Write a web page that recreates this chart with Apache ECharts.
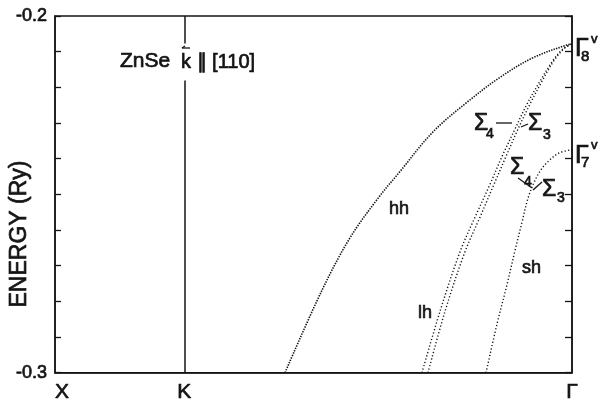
<!DOCTYPE html>
<html>
<head>
<meta charset="utf-8">
<script src="https://cdn.jsdelivr.net/npm/echarts@6/dist/echarts.min.js"></script>
<style>
  html, body { margin: 0; padding: 0; background: #fff; }
  #chart { width: 599px; height: 403px; }
</style>
</head>
<body>
<div id="chart"></div>
<script>
// Valence bands of ZnSe along k || [110]; abscissa runs X (0) -> K (0.25) -> Γ (1)
const hhK = [0.4449, 0.5164, 0.5706, 0.6248, 0.6673, 0.7311, 0.7969, 0.8607, 0.9246, 0.9903, 1.0];
const hhE = [-0.3000, -0.2769, -0.2622, -0.2511, -0.2436, -0.2325, -0.2242, -0.2172, -0.2117, -0.2081, -0.2078];

const lh4K = [0.7099, 0.7447, 0.7834, 0.8124, 0.8414, 0.8646, 0.8897, 0.9130, 0.9381, 0.9632, 0.9826, 1.0];
const lh3K = [0.7215, 0.7544, 0.7930, 0.8221, 0.8491, 0.8723, 0.8956, 0.9188, 0.9420, 0.9652, 0.9845, 1.0];
const lhE  = [-0.3000, -0.2828, -0.2661, -0.2564, -0.2472, -0.2394, -0.2317, -0.2247, -0.2183, -0.2125, -0.2092, -0.2078];

const shK = [0.8337, 0.8549, 0.8743, 0.8897, 0.9033, 0.9149, 0.9265, 0.9400, 0.9574, 0.9768, 1.0];
const shE = [-0.3000, -0.2864, -0.2753, -0.2658, -0.2578, -0.2511, -0.2467, -0.2431, -0.2403, -0.2383, -0.2375];

const kPointK = 0.25;
const xTickValues = [0, 0.25, 1];
const xTickLabels = ['X', 'K', 'Γ'];
const yTickValues = [-0.3, -0.2];
const yTickLabels = ['-0.3', '-0.2'];
const yMin = -0.3, yMax = -0.2, yStep = 0.01;

const INK = '#141414';
const FONT = 'Liberation Sans, Arial, sans-serif';
const HEAVY = 0.7; // extra stroke that thickens the lettering

function pairs(xs, ys) { return xs.map((x, i) => [x, ys[i]]); }
function lookup(values, labels, v) {
  for (let i = 0; i < values.length; i++) if (Math.abs(values[i] - v) < 1e-6) return labels[i];
  return '';
}

function band(name, xs, ys, width, dash) {
  return {
    name, type: 'line', data: pairs(xs, ys),
    showSymbol: false, smooth: 0.35, clip: true,
    lineStyle: { color: INK, width, type: dash, cap: 'butt' },
    silent: true, z: 3
  };
}

function txt(x, y, text, size, extra) {
  return {
    type: 'text', x, y, z: 100,
    style: Object.assign({
      text, font: size + 'px ' + FONT, fill: INK, stroke: INK, lineWidth: HEAVY,
      align: 'left', verticalAlign: 'middle'
    }, extra || {})
  };
}
function seg(x1, y1, x2, y2) {
  return { type: 'line', z: 100, shape: { x1, y1, x2, y2 }, style: { stroke: INK, lineWidth: 1.3 } };
}

const chart = echarts.init(document.getElementById('chart'), null, { renderer: 'canvas' });

chart.setOption({
  animation: false,
  backgroundColor: '#fff',
  grid: { left: 55, right: 27, top: 16, bottom: 27, show: true, borderColor: INK, borderWidth: 1.5, backgroundColor: 'transparent' },
  xAxis: {
    type: 'value', min: 0, max: 1, interval: 0.25,
    axisLine: { show: true, lineStyle: { color: INK, width: 1.5 } },
    axisTick: { show: false },
    splitLine: { show: false },
    axisLabel: {
      margin: 9, color: INK, fontSize: 21, fontFamily: FONT, alignMinLabel: 'left',
      textBorderColor: INK, textBorderWidth: HEAVY,
      formatter: v => lookup(xTickValues, xTickLabels, v)
    }
  },
  yAxis: [
    {
      type: 'value', min: yMin, max: yMax, interval: yStep, position: 'left',
      axisLine: { show: true, lineStyle: { color: INK, width: 1.5 } },
      axisTick: { show: true, inside: true, length: 6, lineStyle: { color: INK, width: 1.3 } },
      splitLine: { show: false },
      axisLabel: {
        margin: 8, color: INK, fontSize: 18, fontFamily: FONT,
        textBorderColor: INK, textBorderWidth: HEAVY,
        formatter: v => lookup(yTickValues, yTickLabels, v)
      }
    },
    {
      type: 'value', min: yMin, max: yMax, interval: yStep, position: 'right',
      axisLine: { show: true, lineStyle: { color: INK, width: 1.5 } },
      axisTick: { show: true, inside: true, length: 7, lineStyle: { color: INK, width: 1.3 } },
      splitLine: { show: false },
      axisLabel: { show: false }
    }
  ],
  series: [
    Object.assign(band('hh', hhK, hhE, 1.6, [1.4, 1.2]), {
      markLine: {
        silent: true, symbol: 'none', label: { show: false },
        lineStyle: { color: INK, width: 1.5, type: 'solid' },
        data: [{ xAxis: kPointK }]
      }
    }),
    band('lh Σ4', lh4K, lhE, 1.4, [1.2, 2.2]),
    band('lh Σ3', lh3K, lhE, 1.4, [1.2, 2.2]),
    band('sh', shK, shE, 1.4, [1.2, 2.2])
  ],
  graphic: [
    // material and direction
    txt(120, 61, 'ZnSe', 21),
    txt(179, 62, 'k ∥ [110]', 20, { backgroundColor: '#fff', padding: [10, 2, 7, 2] }),
    seg(182, 48, 190, 48),
    seg(182, 48, 185, 46),
    // axis title
    {
      type: 'text', x: 20, y: 234, rotation: Math.PI / 2, z: 100,
      style: { text: 'ENERGY (Ry)', font: '23px ' + FONT, fill: INK, stroke: INK, lineWidth: HEAVY, align: 'center', verticalAlign: 'middle' }
    },
    // band names
    txt(389, 209, 'hh', 18),
    txt(418, 313, 'lh', 18),
    txt(522, 268, 'sh', 18),
    // symmetry labels at the crossing points
    txt(474, 124, 'Σ', 23),
    txt(486, 134, '4', 14),
    seg(496, 123, 512, 123),
    seg(521, 127, 528, 124),
    txt(528, 124, 'Σ', 23),
    txt(543, 135, '3', 14),
    txt(510, 168, 'Σ', 23),
    txt(524, 182, '4', 14),
    seg(518, 178, 532, 188),
    seg(533, 190, 542, 182),
    txt(542, 190, 'Σ', 23),
    txt(557, 198, '3', 14),
    // zone-centre states
    txt(575, 49, 'Γ', 25),
    txt(581, 57, '8', 15),
    txt(591, 39, 'v', 13),
    txt(575, 156, 'Γ', 25),
    txt(581, 163, '7', 15),
    txt(591, 145, 'v', 13)
  ]
});
</script>
</body>
</html>
